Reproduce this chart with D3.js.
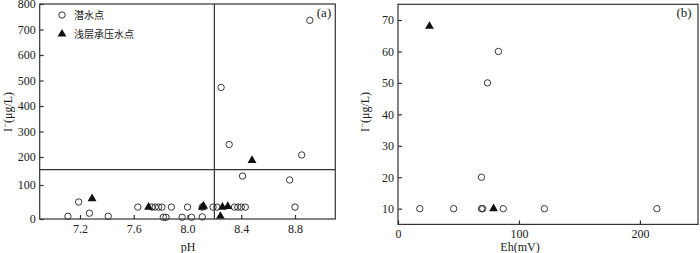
<!DOCTYPE html>
<html>
<head>
<meta charset="utf-8">
<script src="https://cdn.jsdelivr.net/npm/d3@7"></script>
<style>
  body { margin: 0; background: #fff; }
  text { font-family: "Liberation Serif", "DejaVu Serif", serif; fill: #222; }
  .cjk { font-family: "Noto Sans CJK SC", sans-serif; }
</style>
</head>
<body>
<div id="chart"></div>
<script>
// Panel (a): pH vs I-
const phCircle = [7.11, 7.27, 7.41, 7.82, 7.84, 7.96, 8.03, 8.11,
    7.19,
    7.63, 7.735, 7.76, 7.785, 7.81, 7.88, 8.0, 8.11, 8.19, 8.22, 8.35, 8.375, 8.40, 8.43, 8.80,
    8.25, 8.31, 8.41, 8.76, 8.85, 8.91];
const iCircle = [8, 17, 8, 5, 5, 5, 5, 6,
    50,
    35, 35, 35, 35, 35, 35, 35, 35, 35, 35, 35, 35, 35, 35, 35,
    473, 249, 132, 118, 208, 736];
const phTri = [7.29, 7.71, 8.11, 8.12, 8.245, 8.26, 8.30, 8.48];
const iTri = [60, 35, 35, 38, 8, 35, 37, 188];
const phLimit = 8.2;
const iLimit = 155;
const phTicks = [7.2, 7.6, 8.0, 8.4, 8.8];
const iTicksA = [0, 100, 200, 300, 400, 500, 600, 700, 800];

// Panel (b): Eh vs I-
const ehCircle = [18, 46, 69, 69, 70, 87, 121, 214, 74, 83];
const iCircleB = [10, 10, 20, 10, 10, 10, 10, 10, 50, 60];
const ehTri = [26, 79];
const iTriB = [68, 10];
const ehTicks = [0, 100, 200];
const iTicksB = [10, 20, 30, 40, 50, 60, 70];

const legendLabels = ["潜水点", "浅层承压水点"];

const width = 700, height = 253;
const svg = d3.select('#chart').append('svg')
    .attr('width', width)
    .attr('height', height);

const axisColor = '#333';

// scales
const xA = d3.scaleLinear().domain([6.9, 9.1]).range([39.7, 335.3]);
// the original axis is not evenly spaced near zero
const yA = d3.scaleLinear().domain([0, 100, 200, 800]).range([219, 185, 157, 4]);
const xB = d3.scaleLinear().domain([0, 248]).range([398, 698]);
const yB = d3.scaleLinear().domain([5, 75]).range([224.4, 4.3]);

const tri = d3.symbol().type(d3.symbolTriangle).size(34);

function drawFrame(x, y) {
    svg.append('rect')
        .attr('x', x.range()[0])
        .attr('y', y.range()[y.range().length - 1])
        .attr('width', x.range()[1] - x.range()[0])
        .attr('height', y.range()[0] - y.range()[y.range().length - 1])
        .attr('fill', 'none')
        .attr('stroke', axisColor)
        .attr('stroke-width', 1.2);
}

function drawAxes(x, y, xt, yt, xfmt) {
    const bottom = y.range()[0];
    const gx = svg.append('g')
        .attr('transform', `translate(0,${bottom})`)
        .call(d3.axisBottom(x).tickValues(xt).tickFormat(xfmt)
            .tickSizeInner(-4).tickSizeOuter(0).tickPadding(5));
    const gy = svg.append('g')
        .attr('transform', `translate(${x.range()[0]},0)`)
        .call(d3.axisLeft(y).tickValues(yt).tickFormat(d3.format('d'))
            .tickSizeInner(-4).tickSizeOuter(0).tickPadding(4));
    [gx, gy].forEach(g => {
        g.select('.domain').remove();
        g.selectAll('line').attr('stroke', axisColor).attr('stroke-width', 1.2);
        g.selectAll('text').style('font-family', '"Liberation Serif", serif')
            .style('font-size', '12px').attr('fill', '#222');
    });
}

function yLabel(cx, cy) {
    const t = svg.append('text')
        .attr('transform', `translate(${cx},${cy}) rotate(-90)`)
        .attr('text-anchor', 'middle')
        .style('font-size', '12px');
    t.append('tspan').text('I');
    t.append('tspan').attr('dy', -4).style('font-size', '9px').text('−');
    t.append('tspan').attr('dy', 4).text('(μg/L)');
}

function circles(x, y, xs, ys) {
    svg.append('g').selectAll('circle')
        .data(xs.map((d, i) => [d, ys[i]]))
        .join('circle')
        .attr('cx', d => x(d[0]))
        .attr('cy', d => y(d[1]))
        .attr('r', 3.2)
        .attr('fill', 'none')
        .attr('stroke', '#222')
        .attr('stroke-width', 0.9);
}

function triangles(x, y, xs, ys) {
    svg.append('g').selectAll('path')
        .data(xs.map((d, i) => [d, ys[i]]))
        .join('path')
        .attr('d', tri)
        .attr('transform', d => `translate(${x(d[0])},${y(d[1])})`)
        .attr('fill', '#111');
}

// ---- panel (a)
drawAxes(xA, yA, phTicks, iTicksA, d3.format('.1f'));

svg.append('line')
    .attr('x1', xA(phLimit)).attr('x2', xA(phLimit))
    .attr('y1', yA(800)).attr('y2', yA(0))
    .attr('stroke', axisColor).attr('stroke-width', 1.2);
svg.append('line')
    .attr('x1', xA.range()[0]).attr('x2', xA.range()[1])
    .attr('y1', yA(iLimit)).attr('y2', yA(iLimit))
    .attr('stroke', axisColor).attr('stroke-width', 1.2);

circles(xA, yA, phCircle, iCircle);
triangles(xA, yA, phTri, iTri);
drawFrame(xA, yA);

svg.append('text').attr('x', 188).attr('y', 251)
    .attr('text-anchor', 'middle').style('font-size', '12px').text('pH');
yLabel(12, 112);
svg.append('text').attr('x', 324).attr('y', 17)
    .attr('text-anchor', 'middle').style('font-size', '13px').text('(a)');

// legend
const lg = svg.append('g');
lg.append('circle').attr('cx', 62).attr('cy', 15).attr('r', 3.2)
    .attr('fill', 'none').attr('stroke', '#222').attr('stroke-width', 0.9);
lg.append('path').attr('d', tri).attr('transform', 'translate(62,34)').attr('fill', '#111');
lg.selectAll('text').data(legendLabels).join('text')
    .attr('class', 'cjk')
    .attr('x', 74)
    .attr('y', (d, i) => 15 + i * 19)
    .attr('dy', '0.35em')
    .style('font-size', '10px')
    .attr('fill', '#444')
    .text(d => d);

// ---- panel (b)
drawAxes(xB, yB, ehTicks, iTicksB, d3.format('d'));
circles(xB, yB, ehCircle, iCircleB);
triangles(xB, yB, ehTri, iTriB);
drawFrame(xB, yB);

svg.append('text').attr('x', 520).attr('y', 251)
    .attr('text-anchor', 'middle').style('font-size', '12px').text('Eh(mV)');
yLabel(369, 112);
svg.append('text').attr('x', 684).attr('y', 17)
    .attr('text-anchor', 'middle').style('font-size', '13px').text('(b)');
</script>
</body>
</html>
